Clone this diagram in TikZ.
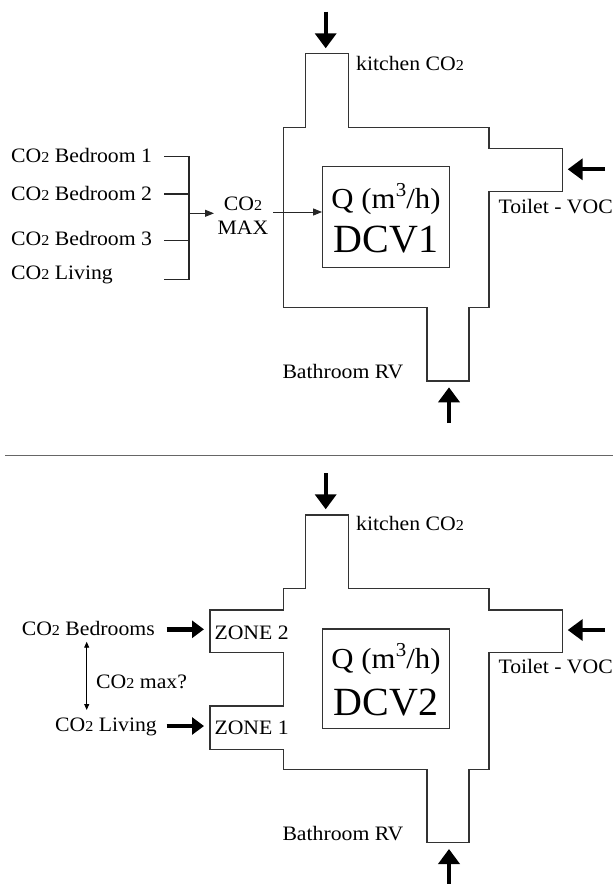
\documentclass[tikz,border=0pt]{standalone}
\usepackage{fontspec}
\setmainfont{Liberation Serif}
\newfontfamily\widefont{Liberation Serif}[FakeStretch=1.06]
\usetikzlibrary{arrows.meta}
\newcommand{\cotwo}{CO\scalebox{0.74}{2}}
\newcommand{\cubed}{\kern0.5pt\raisebox{0.42em}{\scalebox{0.68}{3}}}
\begin{document}
\begin{tikzpicture}[x=1pt,y=-1pt,
  duct/.style={line width=1.2pt, draw=black!80, line join=miter},
  lbl/.style={font=\widefont\fontsize{20.5}{24}\selectfont, inner sep=0pt, anchor=base west},
  rlbl/.style={font=\widefont\fontsize{20.5}{24}\selectfont, inner sep=0pt, anchor=base east},
  clbl/.style={font=\widefont\fontsize{20.5}{24}\selectfont, inner sep=0pt, anchor=base},
  qlbl/.style={font=\widefont\fontsize{29}{32}\selectfont, inner sep=0pt, anchor=base},
  dcvlbl/.style={font=\fontsize{40}{44}\selectfont, inner sep=0pt, anchor=base},
  ctrl/.style={draw, line width=1.2pt, draw=black!80, inner sep=0pt},
  bigarrow/.style={line width=4pt, -{Triangle[width=21pt,length=15pt]}},
  midarrow/.style={line width=4.5pt, -{Triangle[width=17pt,length=12pt]}},
  thinarrow/.style={line width=1pt, -{Triangle[width=7pt,length=9pt]}},
  dblarrow/.style={line width=0.9pt, {Triangle[width=5pt,length=6pt]}-{Triangle[width=5pt,length=6pt]}},
  conn/.style={line width=1.1pt, draw=black!85}]
\useasboundingbox (0,0) rectangle (613,884);

% ================= TOP DIAGRAM (DCV1) =================
\draw[duct] (305.7,53.3) -- (348.7,53.3) -- (348.7,127.3) -- (489,127.3) -- (489,148.3)
  -- (562.7,148.3) -- (562.7,191.7) -- (489,191.7) -- (489,307.3) -- (469,307.3)
  -- (469,381) -- (427,381) -- (427,307.3) -- (283.3,307.3) -- (283.3,127.3)
  -- (305.7,127.3) -- cycle;

\node[ctrl, minimum width=126.6pt, minimum height=100.6pt] (box1) at (386,217) {};
\node[qlbl] (q1) at (386,208.3) {Q (m\cubed/h)};
\node[dcvlbl] (dcv1) at (386,252.7) {DCV1};

\node[lbl] (kit1) at (356,70.7) {kitchen \cotwo};
\node[lbl] (toi1) at (498.3,213.3) {Toilet - VOC};
\node[lbl] (bat1) at (282.3,378.3) {Bathroom RV};

% thick arrows
\coordinate (ka1s) at (325.7,11.7);  \coordinate (ka1e) at (325.7,48.3);
\coordinate (ta1s) at (605,169.3);   \coordinate (ta1e) at (567.7,169.3);
\coordinate (ba1s) at (449,423);     \coordinate (ba1e) at (449,387.3);
\draw[bigarrow] (ka1s) -- (ka1e);
\draw[bigarrow] (ta1s) -- (ta1e);
\draw[bigarrow] (ba1s) -- (ba1e);

% left sensors
\node[lbl] (bed1) at (11,162.3) {\cotwo\ Bedroom 1};
\node[lbl] (bed2) at (11,200.7) {\cotwo\ Bedroom 2};
\node[lbl] (bed3) at (11,245) {\cotwo\ Bedroom 3};
\node[lbl] (liv1) at (11,279.3) {\cotwo\ Living};

\coordinate (s1) at (164,156.7);
\coordinate (s2) at (164,194);
\coordinate (s3) at (164,240.7);
\coordinate (s4) at (164,279.3);
\coordinate (jtop) at (189,156.7);
\coordinate (jbot) at (189,279.3);
\coordinate (jmid) at (189,213.3);
\coordinate (maxin) at (214,213.3);
\draw[conn] (s1) -- (jtop) -- (jbot) -- (s4);
\draw[conn] (s2) -- (s2 -| jtop);
\draw[conn] (s3) -- (s3 -| jtop);
\draw[conn, thinarrow] (jmid) -- (maxin);

\node[clbl] (co2max) at (243,210) {\cotwo};
\node[clbl] (maxlbl) at (243,234) {MAX};
\coordinate (maxout) at (273,212);
\draw[conn, thinarrow] (maxout) -- (maxout -| box1.west);

% separator
\coordinate (sepL) at (5,455.7);
\coordinate (sepR) at (613,455.7);
\draw[line width=1.5pt, draw=black!60] (sepL) -- (sepR);

% ================= BOTTOM DIAGRAM (DCV2) =================
\draw[duct] (305.7,515) -- (348.7,515) -- (348.7,588.3) -- (489,588.3) -- (489,610)
  -- (562.7,610) -- (562.7,652.7) -- (489,652.7) -- (489,769.3) -- (469,769.3)
  -- (469,842.7) -- (427,842.7) -- (427,769.3) -- (283.3,769.3) -- (283.3,749.3)
  -- (210,749.3) -- (210,706) -- (283.3,706) -- (283.3,652.7) -- (210,652.7)
  -- (210,610) -- (283.3,610) -- (283.3,588.3) -- (305.7,588.3) -- cycle;

\node[ctrl, minimum width=126.6pt, minimum height=99.3pt] (box2) at (386,678.7) {};
\node[qlbl] (q2) at (386,668.3) {Q (m\cubed/h)};
\node[dcvlbl] (dcv2) at (386,715) {DCV2};

\node[lbl] (kit2) at (356,530.7) {kitchen \cotwo};
\node[lbl] (toi2) at (498.3,673.3) {Toilet - VOC};
\node[lbl] (bat2) at (282.3,840) {Bathroom RV};

\node[lbl] (zone2) at (214.3,639.3) {ZONE 2};
\node[lbl] (zone1) at (214.3,734.3) {ZONE 1};

\coordinate (ka2s) at (325.7,473);  \coordinate (ka2e) at (325.7,509.3);
\coordinate (ta2s) at (605,630);    \coordinate (ta2e) at (567.7,630);
\coordinate (ba2s) at (449,884);    \coordinate (ba2e) at (449,849);
\draw[bigarrow] (ka2s) -- (ka2e);
\draw[bigarrow] (ta2s) -- (ta2e);
\draw[bigarrow] (ba2s) -- (ba2e);

\node[rlbl] (beds) at (155,635) {\cotwo\ Bedrooms};
\node[rlbl] (liv2) at (157,731.7) {\cotwo\ Living};
\node[lbl] (cmax) at (96,688.3) {\cotwo\ max?};

\coordinate (ab1s) at (166.7,629.3); \coordinate (ab1e) at (204,629.3);
\coordinate (ab2s) at (166.7,726);   \coordinate (ab2e) at (204,726);
\draw[midarrow] (ab1s) -- (ab1e);
\draw[midarrow] (ab2s) -- (ab2e);

\coordinate (dA) at (86.7,641.7);
\coordinate (dB) at (86.7,710);
\draw[dblarrow] (dA) -- (dB);
\end{tikzpicture}
\end{document}
